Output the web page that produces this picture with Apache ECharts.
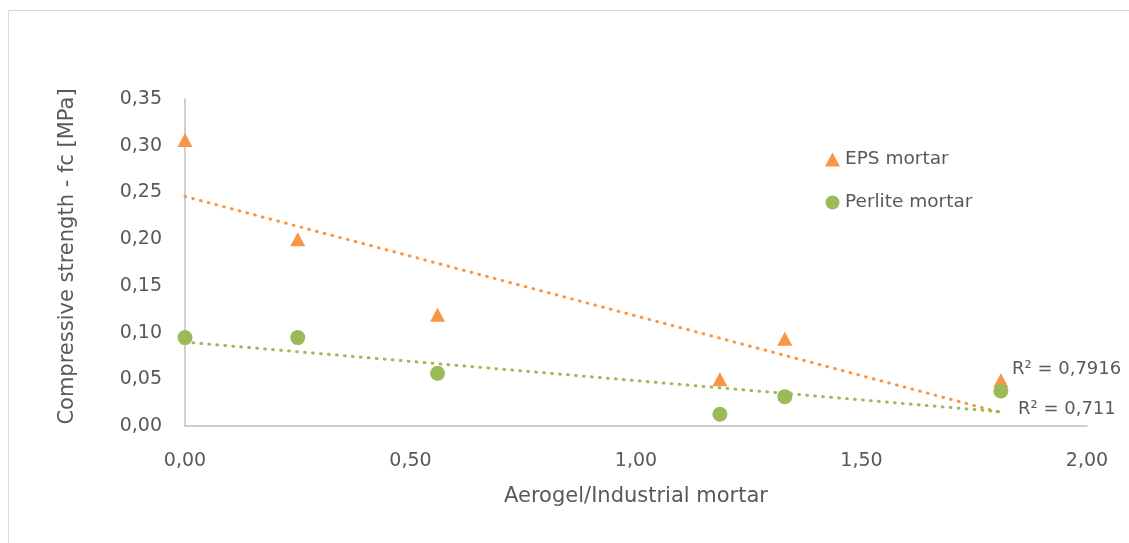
<!DOCTYPE html>
<html>
<head>
<meta charset="utf-8">
<script src="https://cdn.jsdelivr.net/npm/echarts@6/dist/echarts.min.js"></script>
<style>
html,body{margin:0;padding:0;background:#fff;}
#c{width:1129px;height:543px;}
</style>
</head>
<body>
<div id="c"></div>
<script>
// ---- data ----
const seriesNames = ['EPS mortar', 'Perlite mortar'];
const epsX = [0.00, 0.25, 0.56, 1.186, 1.33, 1.809];
const epsY = [0.306, 0.200, 0.119, 0.050, 0.0935, 0.049];
const perliteX = [0.00, 0.25, 0.56, 1.186, 1.33, 1.809];
const perliteY = [0.0946, 0.0946, 0.0564, 0.0125, 0.0314, 0.0375];
const r2Labels = ['R² = 0,7916', 'R² = 0,711'];
const xAxisTitle = 'Aerogel/Industrial mortar';
const yAxisTitle = 'Compressive strength - fc [MPa]';

const ORANGE = '#F79646';
const GREEN = '#9BBB59';
const TXT = '#595959';
const FONT = 'DejaVu Sans';

function pairs(xs, ys){ return xs.map((x,i)=>[x, ys[i]]); }
function trend(xs, ys){
  const n = xs.length;
  const mx = xs.reduce((a,b)=>a+b,0)/n, my = ys.reduce((a,b)=>a+b,0)/n;
  let sxx=0, sxy=0;
  for(let i=0;i<n;i++){ sxx+=(xs[i]-mx)**2; sxy+=(xs[i]-mx)*(ys[i]-my); }
  const b = sxy/sxx, a = my - b*mx;
  const x0 = Math.min(...xs), x1 = Math.max(...xs);
  return [[x0, a+b*x0],[x1, a+b*x1]];
}
const fmt = v => v.toFixed(2).replace('.', ',');

const chart = echarts.init(document.getElementById('c'), null, {renderer:'canvas'});
chart.setOption({
  animation:false,
  backgroundColor:'#fff',
  textStyle:{fontFamily:FONT},
  grid:{left:185, right:42, top:99, bottom:117, containLabel:false},
  xAxis:{
    type:'value', min:0, max:2, interval:0.5,
    name:xAxisTitle, nameLocation:'middle', nameGap:60,
    nameTextStyle:{color:TXT, fontSize:21, fontFamily:FONT},
    axisLine:{show:true, lineStyle:{color:'#BFBFBF', width:1.5}},
    axisTick:{show:false},
    splitLine:{show:false},
    axisLabel:{color:TXT, fontSize:19, fontFamily:FONT, margin:26, formatter:fmt}
  },
  yAxis:{
    type:'value', min:0, max:0.35, interval:0.05,
    name:yAxisTitle, nameLocation:'middle', nameGap:107, nameRotate:90,
    nameTextStyle:{color:TXT, fontSize:21, fontFamily:FONT, padding:[0,0,0,12]},
    axisLine:{show:true, lineStyle:{color:'#BFBFBF', width:1.5}},
    axisTick:{show:false},
    splitLine:{show:false},
    axisLabel:{color:TXT, fontSize:19, fontFamily:FONT, margin:23, formatter:fmt}
  },
  legend:{
    orient:'vertical', left:820, top:145, itemGap:24,
    itemWidth:15, itemHeight:14, itemStyle:{borderWidth:0},
    textStyle:{color:TXT, fontSize:18.5, fontFamily:FONT},
    data:[{name:seriesNames[0], icon:'triangle'},{name:seriesNames[1], icon:'circle'}]
  },
  series:[
    {
      name:seriesNames[0]+' trend', type:'line', data:trend(epsX, epsY),
      showSymbol:false, silent:true, z:1,
      lineStyle:{color:ORANGE, width:3, type:[0.8,7.2], cap:'round'}
    },
    {
      name:seriesNames[1]+' trend', type:'line', data:trend(perliteX, perliteY),
      showSymbol:false, silent:true, z:1,
      lineStyle:{color:GREEN, width:3, type:[0.8,7.2], cap:'round'}
    },
    {
      name:seriesNames[0], type:'scatter', data:pairs(epsX, epsY),
      symbol:'triangle', symbolSize:[15,14], z:3,
      itemStyle:{color:ORANGE, opacity:1}
    },
    {
      name:seriesNames[1], type:'scatter', data:pairs(perliteX, perliteY),
      symbol:'circle', symbolSize:15, z:3,
      itemStyle:{color:GREEN, opacity:1}
    }
  ],
  graphic:[
    {type:'rect', shape:{x:8.5, y:10.5, width:1200, height:600}, style:{fill:'none', stroke:'#D9D9D9', lineWidth:1}, silent:true, z:-1},
    {type:'text', left:1012, top:360, style:{text:r2Labels[0], fill:TXT, font:'18px "DejaVu Sans"'}},
    {type:'text', left:1018, top:400, style:{text:r2Labels[1], fill:TXT, font:'18px "DejaVu Sans"'}}
  ]
});
</script>
</body>
</html>
